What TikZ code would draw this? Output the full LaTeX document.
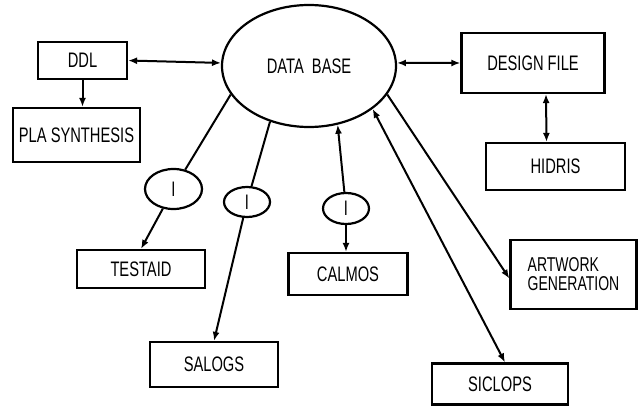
\documentclass[tikz,border=0pt]{standalone}
\usepackage{fontspec}
\setmainfont{Liberation Sans}[FakeStretch=0.7]
\usetikzlibrary{shapes.geometric,arrows.meta}
\begin{document}
\begin{tikzpicture}[x=1pt,y=-1pt,
  >={Latex[length=9pt,width=7pt]},
  box/.style={draw,line width=2.2pt,rectangle,inner sep=0pt,font=\fontsize{21}{24}\selectfont},
  oval/.style={draw,line width=2.2pt,ellipse,inner sep=0pt,font=\fontsize{21}{24}\selectfont},
  link/.style={line width=2pt}
]
\useasboundingbox (0,0) rectangle (640,409);

% central data base
\node[oval,minimum width=174pt,minimum height=122pt] (db) at (309,66) {DATA\ \ BASE};

% tools around it
\node[box,minimum width=89pt,minimum height=37pt]  (ddl)     at (82.5,60.5) {DDL};
\node[box,minimum width=127pt,minimum height=54pt] (pla)     at (76.5,135)  {PLA SYNTHESIS};
\node[box,minimum width=143pt,minimum height=60pt] (design)  at (533,63)    {DESIGN FILE};
\node[box,minimum width=139pt,minimum height=47pt] (hidris)  at (555.5,166.5) {HIDRIS};
\node[box,minimum width=128pt,minimum height=38pt] (testaid) at (141,269)   {TESTAID};
\node[box,minimum width=119pt,minimum height=42pt] (calmos)  at (348,274)   {CALMOS};
\node[box,minimum width=128pt,minimum height=45pt] (salogs)  at (214,364.5) {SALOGS};
\node[box,minimum width=126pt,minimum height=69pt,align=left,
      font=\fontsize{20}{19}\selectfont] (artwork) at (573.5,274.5) {ARTWORK\\GENERATION};
\node[box,minimum width=136pt,minimum height=41pt] (siclops) at (500,384)   {SICLOPS};

% interface marks
\node[oval,minimum width=57pt,minimum height=40pt] (i1) at (173.5,189) {I};
\node[oval,minimum width=46pt,minimum height=30pt] (i2) at (247,202)   {I};
\node[oval,minimum width=46pt,minimum height=31pt] (i3) at (346,208.5) {I};

% connections
\draw[link,<->] (ddl.east) -- (db.178);
\draw[link,->] (ddl.south) -- (ddl.south |- pla.north);
\draw[link,<->] (db.2) -- (design.west);
\draw[link,<->] ([xshift=13pt]design.south) -- ([xshift=-9pt]hidris.north);

\draw[link] (db.200) -- (i1);
\draw[link,->] (i1) -- (testaid.north);
\draw[link] (db.235) -- (i2);
\draw[link,->] (i2) -- (salogs.north);
\draw[link,->] (i3) -- (db.296);
\draw[link,->] (i3) -- (calmos.north -| i3);
\draw[link,<->] (db.326) -- ([xshift=5pt]siclops.north);
\draw[link,->] (db.340) -- ([yshift=-4pt]artwork.west);
\end{tikzpicture}
\end{document}
